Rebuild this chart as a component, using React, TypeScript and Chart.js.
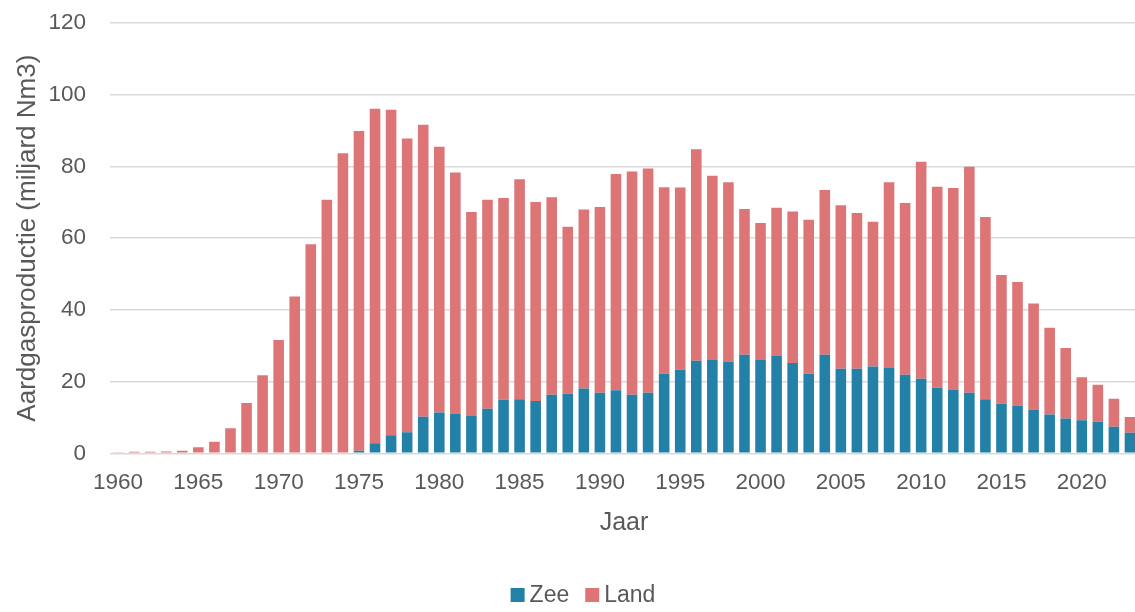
import React, { useEffect, useRef } from "react";
import { Chart, registerables } from "chart.js";

Chart.register(...registerables);

const years: string[] = [
  "1960","1961","1962","1963","1964","1965","1966","1967","1968","1969",
  "1970","1971","1972","1973","1974","1975","1976","1977","1978","1979",
  "1980","1981","1982","1983","1984","1985","1986","1987","1988","1989",
  "1990","1991","1992","1993","1994","1995","1996","1997","1998","1999",
  "2000","2001","2002","2003","2004","2005","2006","2007","2008","2009",
  "2010","2011","2012","2013","2014","2015","2016","2017","2018","2019",
  "2020","2021","2022","2023",
];

const zee: number[] = [
  0, 0, 0, 0, 0, 0, 0, 0, 0, 0,
  0, 0, 0, 0, 0, 0.7, 2.8, 5.0, 5.9, 10.2,
  11.4, 11.1, 10.4, 12.4, 14.9, 15.1, 14.6, 16.3, 16.6, 18.1,
  16.9, 17.6, 16.3, 16.9, 22.2, 23.3, 25.8, 26.0, 25.6, 27.5,
  26.0, 27.3, 25.2, 22.2, 27.5, 23.6, 23.6, 24.2, 23.8, 21.9,
  20.8, 18.3, 17.8, 16.9, 15.1, 13.8, 13.3, 12.2, 10.8, 9.7,
  9.2, 8.8, 7.4, 5.7,
];

const land: number[] = [
  0.3, 0.4, 0.4, 0.5, 0.7, 1.7, 3.2, 7.0, 14.0, 21.8,
  31.6, 43.7, 58.3, 70.7, 83.7, 89.2, 93.3, 90.8, 81.9, 81.4,
  74.1, 67.2, 56.9, 58.3, 56.3, 61.3, 55.5, 55.1, 46.6, 49.9,
  51.8, 60.3, 62.3, 62.5, 52.0, 50.8, 59.0, 51.4, 50.0, 40.6,
  38.2, 41.2, 42.2, 42.9, 45.9, 45.6, 43.4, 40.4, 51.8, 47.9,
  60.5, 56.0, 56.2, 63.0, 50.8, 35.9, 34.5, 29.6, 24.2, 19.7,
  12.0, 10.3, 7.8, 4.4,
];

const yTicks: number[] = [0, 20, 40, 60, 80, 100, 120];

const BLUE = "#2380a6";
const RED = "#dd7577";
const TEXT = "#595959";
const GRID = "#d9d9d9";
const FONT = "'Liberation Sans', Arial, sans-serif";

// Custom bottom legend (small gap between swatch and text, like the reference)
const legendPlugin = {
  id: "customLegend",
  afterDraw(chart: any) {
    const ctx = chart.ctx as CanvasRenderingContext2D;
    const items = chart.data.datasets.map((d: any) => ({
      text: d.label as string,
      color: d.backgroundColor as string,
    }));
    const box = 14;
    const gap = 5;
    const itemGap = 16;
    ctx.save();
    ctx.font = `23px ${FONT}`;
    const widths = items.map((it: any) => box + gap + ctx.measureText(it.text).width);
    const total = widths.reduce((a: number, b: number) => a + b, 0) + itemGap * (items.length - 1);
    const cx = 583;
    const cy = 595;
    let x = cx - total / 2;
    items.forEach((it: any, i: number) => {
      ctx.fillStyle = it.color;
      ctx.fillRect(x, cy - box / 2, box, box);
      ctx.fillStyle = TEXT;
      ctx.textBaseline = "middle";
      ctx.textAlign = "left";
      ctx.fillText(it.text, x + box + gap, cy + 1);
      x += widths[i] + itemGap;
    });
    ctx.restore();
  },
};

export default function App() {
  const ref = useRef<HTMLCanvasElement | null>(null);

  useEffect(() => {
    if (!ref.current) return;
    const chart = new Chart(ref.current, {
      type: "bar",
      data: {
        labels: years,
        datasets: [
          {
            label: "Zee",
            data: zee,
            backgroundColor: BLUE,
            borderWidth: 0,
            barPercentage: 0.66,
            categoryPercentage: 1,
          },
          {
            label: "Land",
            data: land,
            backgroundColor: RED,
            borderWidth: 0,
            barPercentage: 0.66,
            categoryPercentage: 1,
          },
        ],
      },
      plugins: [legendPlugin],
      options: {
        responsive: false,
        animation: false,
        layout: { padding: { top: 23, left: 0, right: 3, bottom: 0 } },
        plugins: {
          legend: { display: false },
          tooltip: { enabled: false },
        },
        scales: {
          x: {
            stacked: true,
            grid: { display: false, drawTicks: false },
            border: { display: false },
            afterFit: (s: any) => {
              s.height = 158.7;
              s.paddingLeft = 0;
              s.paddingRight = 0;
            },
            ticks: {
              color: TEXT,
              font: { family: FONT, size: 22.5 },
              autoSkip: false,
              maxRotation: 0,
              padding: 16,
              callback: (_v: any, i: number) =>
                Number(years[i]) % 5 === 0 ? years[i] : "",
            },
            title: {
              display: true,
              text: "Jaar",
              color: TEXT,
              font: { family: FONT, size: 25 },
              padding: { top: 10, bottom: 74 },
            },
          },
          y: {
            stacked: true,
            min: 0,
            max: 120,
            afterBuildTicks: (axis: any) => {
              axis.ticks = yTicks.map((v) => ({ value: v }));
            },
            afterFit: (s: any) => {
              s.width = 110;
              s.paddingTop = 0;
              s.paddingBottom = 0;
            },
            grid: { color: GRID, lineWidth: 1.5, drawTicks: false },
            border: { display: false },
            ticks: {
              color: TEXT,
              font: { family: FONT, size: 22.5 },
              padding: 24,
            },
            title: {
              display: true,
              text: "Aardgasproductie (miljard Nm3)",
              color: TEXT,
              font: { family: FONT, size: 26 },
              padding: { top: 12, bottom: 0 },
            },
          },
        },
      },
    });
    return () => chart.destroy();
  }, []);

  return (
    <div
      style={{
        position: "fixed",
        left: 0,
        top: 0,
        width: 1135,
        height: 612,
        overflow: "hidden",
        background: "#fff",
      }}
    >
      <canvas ref={ref} width={1141} height={612} style={{ display: "block" }} />
    </div>
  );
}
